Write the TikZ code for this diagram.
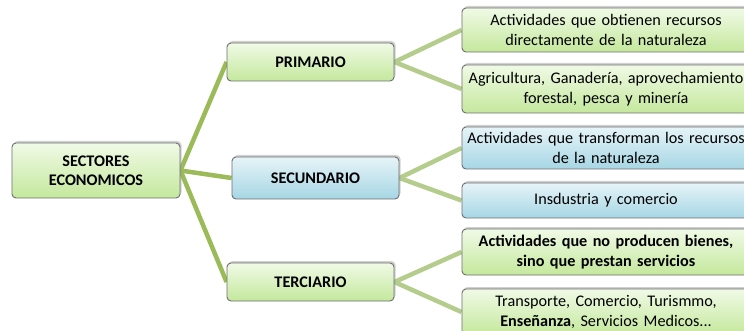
\documentclass[tikz,border=0pt]{standalone}
\usepackage{fontspec}
\setmainfont{Carlito}
\usetikzlibrary{shadows,backgrounds}
\definecolor{gtop}{HTML}{F0FAE6}
\definecolor{gbot}{HTML}{C4E89C}
\definecolor{btop}{HTML}{E6F4F8}
\definecolor{bbot}{HTML}{A6D6E4}
\definecolor{edgegray}{HTML}{6E6E6E}
\definecolor{lineA}{HTML}{9BBB59}
\definecolor{lineB}{HTML}{B5CD8C}
\tikzset{
  box/.style={draw=edgegray, line width=0.9pt, rounded corners=4pt, inner sep=0pt,
    align=center, font=\fontsize{16.2}{19.5}\selectfont,
    drop shadow={shadow xshift=1.5pt, shadow yshift=2pt, fill=black!40, opacity=0.45}},
  greenbox/.style={box, top color=gtop, bottom color=gbot},
  bluebox/.style={box, top color=btop, bottom color=bbot},
  sector/.style={minimum width=167pt, font=\fontsize{16.2}{19.5}\selectfont\bfseries},
  leaf/.style={minimum width=288pt, text width=288pt},
  rootline/.style={draw=lineA, line width=4.5pt},
  leafline/.style={draw=lineB, line width=4.5pt},
}
\begin{document}
\begin{tikzpicture}[x=1pt,y=-1pt]
\useasboundingbox (0,0) rectangle (744,331);
\clip (0,0) rectangle (744,331);

\node[greenbox, minimum width=168pt, minimum height=55pt, font=\fontsize{16.2}{19.5}\selectfont\bfseries] (root) at (96,170.5) {SECTORES\\ECONOMICOS};

\node[greenbox, sector, minimum height=38pt] (prim) at (310.5,62) {PRIMARIO};
\node[bluebox, sector, minimum height=42pt] (sec) at (315.5,178) {SECUNDARIO};
\node[greenbox, sector, minimum height=38pt] (ter) at (310.5,282) {TERCIARIO};

\node[greenbox, leaf, minimum height=44pt] (p1) at (606,30) {Actividades que obtienen recursos\\directamente de la naturaleza};
\node[greenbox, leaf, minimum height=48pt] (p2) at (606,89) {Agricultura, Ganadería, aprovechamiento\\forestal, pesca y minería};
\node[bluebox, leaf, minimum height=42pt] (s1) at (606,148) {Actividades que transforman los recursos\\de la naturaleza};
\node[bluebox, leaf, minimum height=35pt] (s2) at (606,200.5) {Insdustria y comercio};
\node[greenbox, leaf, minimum height=46pt, font=\fontsize{16.2}{19.5}\selectfont\bfseries] (t1) at (606,252) {Actividades que no producen bienes,\\sino que prestan servicios};
\node[greenbox, leaf, minimum height=46pt] (t2) at (606,312) {Transporte, Comercio, Turismmo,\\\textbf{Enseñanza}, Servicios Medicos...};

\begin{scope}[on background layer]
\fill[white] (0,0) rectangle (744,331);
\draw[rootline] (root.east) -- (prim.west);
\draw[rootline] (root.east) -- (sec.west);
\draw[rootline] (root.east) -- (ter.west);
\draw[leafline] (prim.east) -- (p1.west);
\draw[leafline] (prim.east) -- (p2.west);
\draw[leafline] (sec.east) -- (s1.west);
\draw[leafline] (sec.east) -- (s2.west);
\draw[leafline] (ter.east) -- (t1.west);
\draw[leafline] (ter.east) -- (t2.west);
\end{scope}
\end{tikzpicture}
\end{document}
